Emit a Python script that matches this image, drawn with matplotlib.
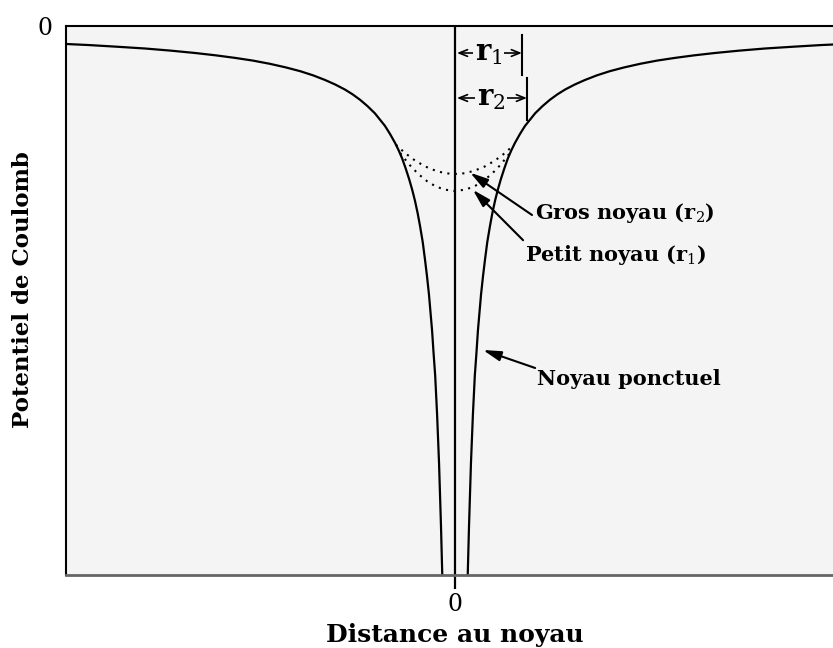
import numpy as np
import matplotlib.pyplot as plt

plt.rcParams['font.family'] = ['DejaVu Serif']
plt.rcParams['mathtext.fontset'] = 'dejavuserif'

# distance au noyau (unites arbitraires) et potentiel
distance = [0.032, 0.036, 0.041, 0.046, 0.051, 0.055, 0.059, 0.063, 0.067,
            0.072, 0.077, 0.083, 0.090, 0.096, 0.103, 0.110, 0.118, 0.127,
            0.136, 0.145, 0.154, 0.167, 0.180, 0.193, 0.206, 0.225, 0.244,
            0.263, 0.283, 0.308, 0.334, 0.365, 0.398, 0.435, 0.476, 0.520,
            0.566, 0.615, 0.668, 0.730, 0.797, 0.870, 0.940, 1.0]
potentiel = [-31.1, -27.8, -24.3, -21.6, -19.4, -18.2, -16.9, -15.9, -14.9,
             -13.9, -13.0, -12.0, -11.1, -10.4, -9.7, -9.1, -8.5, -7.9,
             -7.35, -6.9, -6.5, -6.0, -5.55, -5.2, -4.85, -4.45, -4.1,
             -3.8, -3.53, -3.25, -3.0, -2.74, -2.51, -2.3, -2.1, -1.92,
             -1.77, -1.63, -1.5, -1.37, -1.25, -1.15, -1.06, -1.0]

# potentiel a l'interieur des noyaux de taille finie
dist_gros = [0.0, 0.026, 0.051, 0.077, 0.103, 0.129, 0.152]
pot_gros = [-8.22, -8.18, -8.03, -7.80, -7.47, -7.05, -6.59]
dist_petit = [0.0, 0.026, 0.049, 0.072, 0.095, 0.118, 0.141]
pot_petit = [-9.17, -9.09, -8.92, -8.62, -8.21, -7.69, -7.06]

# rayons indiques par les fleches
r1 = 0.172
r2 = 0.185

fond = '#f4f4f4'
fs = 15

fig = plt.figure(figsize=(8.33, 6.48), dpi=100)
ax = fig.add_axes([66 / 833, 73 / 648, 778 / 833, 549 / 648])
ax.set_facecolor(fond)


def miroir(d, v):
    d = np.asarray(d)
    v = np.asarray(v)
    return np.concatenate([-d[::-1], d]), np.concatenate([v[::-1], v])


# noyau ponctuel, deux branches
d = np.asarray(distance)
ax.plot(d, potentiel, color='black', lw=1.6)
ax.plot(-d, potentiel, color='black', lw=1.6)

# noyaux etendus (pointilles)
for dd, vv in [(dist_gros, pot_gros), (dist_petit, pot_petit)]:
    xx, yy = miroir(dd, vv)
    ax.plot(xx, yy, color='black', lw=1.5, linestyle=(0, (1, 2.6)))

ax.axvline(0, color='black', lw=1.6)

ax.set_xlim(-1, 1)
ax.set_ylim(-30.5, 0)
ax.set_xticks([0])
ax.set_xticklabels(['0'], fontsize=17)
ax.set_yticks([0])
ax.set_yticklabels(['0'], fontsize=17)
ax.tick_params(axis='x', length=10, width=1.6, pad=3)
ax.tick_params(axis='y', length=0, pad=10)
for s in ['top', 'left']:
    ax.spines[s].set_linewidth(1.5)
ax.spines['bottom'].set_color('#666666')
ax.spines['bottom'].set_linewidth(2)
ax.spines['right'].set_visible(False)

ax.set_xlabel('Distance au noyau', fontsize=18, fontweight='bold', labelpad=5)
ax.set_ylabel('Potentiel de Coulomb', fontsize=16.5, fontweight='bold')
ax.yaxis.set_label_coords(-0.041, 0.52)

# fleches des rayons
fleche_r = dict(arrowstyle='<->,head_length=0.5,head_width=0.2', lw=1.2,
                color='black', shrinkA=0, shrinkB=0, mutation_scale=12)
for r, y, lab, (b0, b1) in [(r1, -1.5, r'$\mathbf{r}_1$', (-0.5, -2.72)),
                            (r2, -4.0, r'$\mathbf{r}_2$', (-2.9, -5.2))]:
    ax.annotate('', xy=(0.005, y), xytext=(r, y), arrowprops=fleche_r)
    ax.text(r / 2, y, lab, fontsize=21, ha='center', va='center',
            bbox=dict(facecolor=fond, edgecolor='none', pad=1))
    ax.plot([r, r], [b0, b1], color='black', lw=1.5)

# annotations
fleche = dict(arrowstyle='-|>,head_length=0.9,head_width=0.25', lw=1.5,
              color='black', shrinkA=0, shrinkB=0, mutation_scale=12)
ax.annotate('', xy=(0.039, -8.15), xytext=(0.198, -10.5), arrowprops=fleche)
ax.annotate('', xy=(0.046, -9.1), xytext=(0.175, -11.9), arrowprops=fleche)
ax.annotate('', xy=(0.072, -18.0), xytext=(0.206, -19.0), arrowprops=fleche)
ax.text(0.206, -10.4, 'Gros noyau (r$_2$)', fontsize=fs, fontweight='bold',
        ha='left', va='center')
ax.text(0.180, -12.7, 'Petit noyau (r$_1$)', fontsize=fs, fontweight='bold',
        ha='left', va='center')
ax.text(0.211, -19.6, 'Noyau ponctuel', fontsize=fs, fontweight='bold',
        ha='left', va='center')

fig.savefig('out.png', dpi=100)
